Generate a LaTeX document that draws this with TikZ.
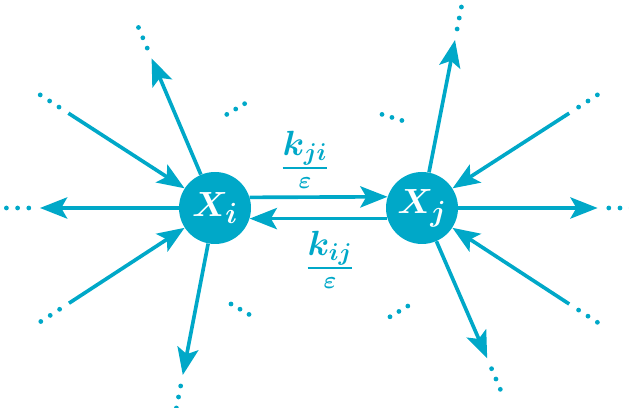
\documentclass[tikz,border=0pt]{standalone}
\usepackage{amsmath,amssymb}
\usepackage{xcolor}
\usepackage{tikz}
\usetikzlibrary{positioning,arrows.meta}
\definecolor{cy}{RGB}{0,168,200}
\tikzset{
  nd/.style={circle, fill=cy, draw=none, minimum size=1.8cm, inner sep=0pt, text=white, font=\fontsize{29}{33}\selectfont},
  sp/.style={draw=cy, line width=2.6pt},
  ar/.style={-{Stealth[length=0.68cm, width=0.53cm, inset=0.15cm]}},
  lbl/.style={text=cy, font=\fontsize{24}{28}\selectfont, inner sep=1pt},
  dt/.style={fill=cy}
}

\begin{document}
\begin{tikzpicture}
  \useasboundingbox (0,0) rectangle (15.725,10.2);
  \node[nd] (Xi) at (5.375,5) {$\boldsymbol{X_i}$};
  \node[nd] (Xj) at (10.55,5) {$\boldsymbol{X_j}$};
  % free ends of the spokes
  \coordinate (ia) at (3.79,8.74);
  \coordinate (ib) at (1.71,7.37);
  \coordinate (ic) at (1.00,5);
  \coordinate (id) at (1.725,2.62);
  \coordinate (ie) at (4.57,0.825);
  \coordinate (ja) at (11.375,9.2);
  \coordinate (jb) at (14.23,7.37);
  \coordinate (jc) at (14.94,5);
  \coordinate (jd) at (14.23,2.6);
  \coordinate (je) at (12.18,1.24);
  \draw[sp,ar] (Xi) -- (ia);
  \draw[sp,ar] (ib) -- (Xi);
  \draw[sp,ar] (Xi) -- (ic);
  \draw[sp,ar] (id) -- (Xi);
  \draw[sp,ar] (Xi) -- (ie);
  \draw[sp,ar] (Xj) -- (ja);
  \draw[sp,ar] (jb) -- (Xj);
  \draw[sp,ar] (Xj) -- (jc);
  \draw[sp,ar] (jd) -- (Xj);
  \draw[sp,ar] (Xj) -- (je);
  % exchange between i and j
  \draw[sp,ar] (Xi.17.8) -- (Xj.162.2);
  \draw[sp,ar] (Xj.197.8) -- (Xi.-17.8);
  \node[lbl] (kji) at (7.625,6.2) {$\genfrac{}{}{1.4pt}{1}{\textstyle\boldsymbol{k_{ji}}}{\boldsymbol{\varepsilon}}$};
  \node[lbl] (kij) at (8.25,3.7) {$\genfrac{}{}{1.4pt}{1}{\textstyle\boldsymbol{k_{ij}}}{\boldsymbol{\varepsilon}}$};
  % dots
  \foreach \p/\a in {ia/113, ib/147, ic/180, id/213, ie/259, ja/79, jb/33, jc/0, jd/-33, je/-67}
    \foreach \k in {0,1,2}
      \fill[dt] ([shift={(\a:{0.28+0.28*\k})}]\p) circle (0.06cm);
  \foreach \x/\y/\a in {5.67/7.34/31, 5.775/2.6/-30, 9.55/7.34/-17, 9.75/2.28/31}
    \foreach \k in {0,1,2}
      \fill[dt] ([shift={(\a:{0.26*\k})}]\x,\y) circle (0.06cm);
\end{tikzpicture}
\end{document}
